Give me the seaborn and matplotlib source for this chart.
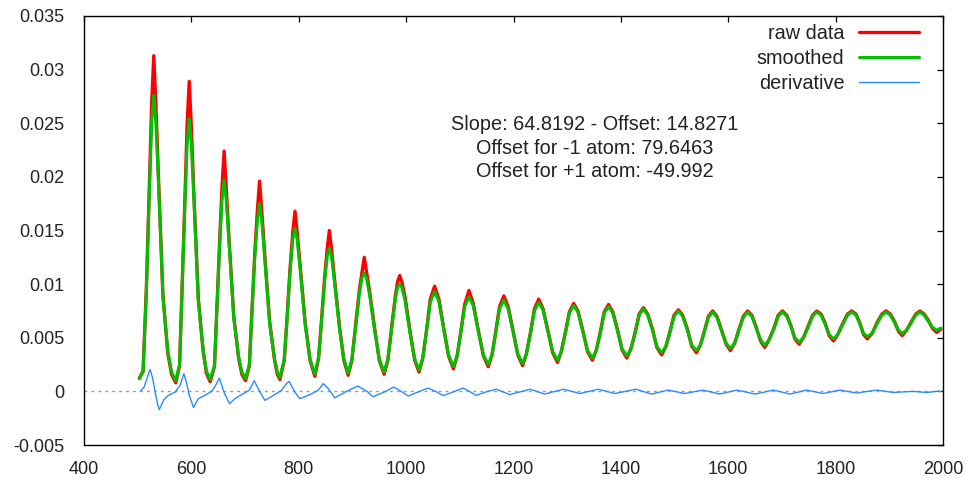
import matplotlib
matplotlib.use("Agg")
import matplotlib.pyplot as plt
from matplotlib.ticker import FuncFormatter
import seaborn as sns
import pandas as pd

# ---------------- data ----------------
channel = [
    503, 510, 516, 522, 526, 530, 534, 539, 547, 556, 563, 571,
    578, 582, 588, 592, 596, 600, 605, 613, 622, 628, 635,
    643, 647, 653, 657, 661, 665, 670, 679, 688, 694, 701,
    708, 712, 718, 723, 727, 731, 737, 746, 755, 760, 765,
    773, 778, 784, 789, 793, 797, 803, 812, 821, 830,
    837, 842, 848, 853, 857, 861, 867, 876, 884, 892,
    899, 906, 913, 918, 922, 926, 932, 941, 950, 959,
    966, 973, 980, 984, 988, 992, 998, 1007, 1016, 1024,
    1031, 1038, 1045, 1053, 1061, 1070, 1079, 1088,
    1095, 1102, 1109, 1117, 1125, 1134, 1144, 1153,
    1160, 1167, 1174, 1182, 1190, 1199, 1208, 1217,
    1224, 1232, 1239, 1247, 1255, 1264, 1273, 1282,
    1289, 1297, 1304, 1312, 1320, 1329, 1338, 1347,
    1354, 1362, 1369, 1377, 1385, 1394, 1402, 1411,
    1419, 1427, 1434, 1442, 1450, 1459, 1467, 1476,
    1484, 1492, 1499, 1507, 1515, 1524, 1532, 1541,
    1548, 1556, 1563, 1571, 1579, 1587, 1596, 1604,
    1612, 1620, 1628, 1636, 1644, 1652, 1660, 1668,
    1676, 1685, 1693, 1701, 1709, 1717, 1724, 1732,
    1740, 1749, 1757, 1765, 1773, 1781, 1788, 1796,
    1804, 1813, 1822, 1830, 1838, 1845, 1852, 1859,
    1868, 1877, 1886, 1894, 1902, 1910, 1917, 1924,
    1932, 1941, 1949, 1957, 1965, 1973, 1980, 1988,
    1996,
]

raw_data = [
    0.0012, 0.0019, 0.0094, 0.0196, 0.0268, 0.0313, 0.0266, 0.0196, 0.0090, 0.0036, 0.0016, 0.0008,
    0.0024, 0.0086, 0.0180, 0.0248, 0.0289, 0.0246, 0.0180, 0.0086, 0.0037, 0.0017, 0.0009,
    0.0023, 0.0072, 0.0144, 0.0190, 0.0224, 0.0189, 0.0143, 0.0070, 0.0031, 0.0016, 0.0010,
    0.0024, 0.0067, 0.0128, 0.0169, 0.0196, 0.0169, 0.0125, 0.0064, 0.0029, 0.0016, 0.0011,
    0.0029, 0.0067, 0.0116, 0.0149, 0.0168, 0.0149, 0.0115, 0.0064, 0.0029, 0.0014,
    0.0031, 0.0064, 0.0105, 0.0133, 0.0150, 0.0133, 0.0103, 0.0060, 0.0029, 0.0015,
    0.0029, 0.0062, 0.0095, 0.0112, 0.0125, 0.0112, 0.0093, 0.0060, 0.0029, 0.0016,
    0.0029, 0.0060, 0.0089, 0.0102, 0.0108, 0.0102, 0.0088, 0.0057, 0.0029, 0.0018,
    0.0031, 0.0057, 0.0086, 0.0098, 0.0086, 0.0059, 0.0033, 0.0021,
    0.0033, 0.0056, 0.0081, 0.0094, 0.0082, 0.0058, 0.0033, 0.0023,
    0.0034, 0.0056, 0.0079, 0.0089, 0.0079, 0.0057, 0.0034, 0.0024,
    0.0035, 0.0056, 0.0077, 0.0086, 0.0077, 0.0057, 0.0036, 0.0027,
    0.0037, 0.0056, 0.0074, 0.0082, 0.0075, 0.0057, 0.0037, 0.0029,
    0.0038, 0.0056, 0.0074, 0.0081, 0.0074, 0.0057, 0.0039, 0.0031,
    0.0040, 0.0056, 0.0072, 0.0078, 0.0072, 0.0058, 0.0041, 0.0034,
    0.0042, 0.0057, 0.0071, 0.0076, 0.0071, 0.0058, 0.0042, 0.0036,
    0.0043, 0.0057, 0.0070, 0.0075, 0.0070, 0.0058, 0.0044, 0.0038,
    0.0045, 0.0058, 0.0070, 0.0075, 0.0071, 0.0060, 0.0047, 0.0041,
    0.0048, 0.0059, 0.0071, 0.0075, 0.0071, 0.0061, 0.0049, 0.0044,
    0.0050, 0.0061, 0.0071, 0.0075, 0.0072, 0.0063, 0.0052, 0.0047,
    0.0053, 0.0063, 0.0072, 0.0075, 0.0072, 0.0064, 0.0053, 0.0049,
    0.0054, 0.0064, 0.0072, 0.0075, 0.0072, 0.0065, 0.0056, 0.0052,
    0.0057, 0.0065, 0.0072, 0.0075, 0.0072, 0.0066, 0.0059, 0.0055,
    0.0058,
]

smoothed = [
    0.0012, 0.0018, 0.0091, 0.0191, 0.0250, 0.0276, 0.0250, 0.0192, 0.0088, 0.0038, 0.0018, 0.0010,
    0.0025, 0.0083, 0.0176, 0.0230, 0.0254, 0.0230, 0.0176, 0.0084, 0.0038, 0.0019, 0.0011,
    0.0024, 0.0070, 0.0140, 0.0178, 0.0197, 0.0178, 0.0140, 0.0068, 0.0032, 0.0018, 0.0012,
    0.0025, 0.0065, 0.0125, 0.0160, 0.0175, 0.0160, 0.0122, 0.0062, 0.0030, 0.0018, 0.0013,
    0.0030, 0.0065, 0.0113, 0.0142, 0.0152, 0.0142, 0.0112, 0.0062, 0.0030, 0.0016,
    0.0032, 0.0062, 0.0102, 0.0126, 0.0133, 0.0126, 0.0100, 0.0058, 0.0030, 0.0017,
    0.0030, 0.0060, 0.0092, 0.0106, 0.0110, 0.0106, 0.0090, 0.0058, 0.0030, 0.0018,
    0.0030, 0.0058, 0.0086, 0.0097, 0.0100, 0.0097, 0.0085, 0.0055, 0.0030, 0.0020,
    0.0031, 0.0056, 0.0083, 0.0093, 0.0084, 0.0058, 0.0034, 0.0023,
    0.0033, 0.0055, 0.0079, 0.0088, 0.0080, 0.0057, 0.0034, 0.0025,
    0.0034, 0.0055, 0.0077, 0.0085, 0.0077, 0.0056, 0.0035, 0.0026,
    0.0035, 0.0055, 0.0075, 0.0083, 0.0076, 0.0056, 0.0037, 0.0029,
    0.0037, 0.0055, 0.0073, 0.0080, 0.0074, 0.0056, 0.0038, 0.0031,
    0.0038, 0.0055, 0.0073, 0.0079, 0.0073, 0.0056, 0.0040, 0.0033,
    0.0040, 0.0055, 0.0071, 0.0077, 0.0071, 0.0057, 0.0042, 0.0036,
    0.0042, 0.0056, 0.0070, 0.0075, 0.0070, 0.0057, 0.0043, 0.0038,
    0.0043, 0.0056, 0.0069, 0.0074, 0.0069, 0.0057, 0.0045, 0.0040,
    0.0045, 0.0057, 0.0069, 0.0074, 0.0070, 0.0059, 0.0048, 0.0043,
    0.0048, 0.0058, 0.0070, 0.0074, 0.0070, 0.0060, 0.0050, 0.0046,
    0.0050, 0.0060, 0.0070, 0.0074, 0.0071, 0.0062, 0.0053, 0.0049,
    0.0053, 0.0062, 0.0071, 0.0074, 0.0071, 0.0063, 0.0054, 0.0051,
    0.0054, 0.0063, 0.0071, 0.0074, 0.0071, 0.0064, 0.0057, 0.0054,
    0.0057, 0.0064, 0.0071, 0.0074, 0.0071, 0.0065, 0.0060, 0.0057,
    0.0059,
]

deriv_channel = [
    505, 512, 518, 523, 528, 533, 537, 540, 544, 548, 557, 570,
    579, 586, 591, 596, 604, 613, 625, 638, 647, 652, 661, 671,
    681, 697, 708, 717, 726, 737, 753, 768, 777, 782, 793, 802,
    821, 836, 846, 855, 867, 889, 910, 927, 938, 962, 977, 991,
    1004, 1020, 1041, 1055, 1069, 1085, 1106, 1118, 1130, 1152, 1168, 1193,
    1231, 1258, 1293, 1324, 1358, 1389, 1428, 1457, 1488, 1519, 1553, 1584,
    1616, 1650, 1684, 1715, 1746, 1777, 1808, 1839, 1876, 1907, 1944, 1969,
    1994,
]
derivative = [
    0.0, 0.0004, 0.0013, 0.00205, 0.0012, -0.0002, -0.0012, -0.0017, -0.0013, -0.00084, -0.00037, -0.00006,
    0.00056, 0.00165, 0.0008, -0.00037, -0.0015, -0.00068, -0.00037, 0.0, 0.00072, 0.00124, -0.0001, -0.00115,
    -0.00068, -0.0002, 0.0001, 0.0010, 0.0001, -0.00084, -0.00037, 0.0001, 0.00072, 0.00093, -0.0001, -0.00068,
    -0.0003, 0.0001, 0.00072, 0.00025, -0.0006, 0.0, 0.0005, 0.0, -0.0005, 0.0, 0.0004, 0.0,
    -0.00044, -0.0001, 0.0003, 0.0, -0.0004, -0.0001, 0.0003, 0.0, -0.00037, 0.0, 0.0002, -0.0003,
    0.0002, -0.00025, 0.0002, -0.0002, 0.0002, -0.0002, 0.0002, -0.00025, 0.00012, -0.0002, 0.00012, -0.00025,
    0.00012, -0.00025, 0.00012, -0.00025, 0.00012, -0.0002, 0.00012, -0.00015, 0.00012, -0.0001, 0.0, -0.0001,
    0.00003,
]

series_labels = ["raw data", "smoothed", "derivative"]
annotation_lines = [
    "Slope: 64.8192 - Offset: 14.8271",
    "Offset for -1 atom: 79.6463",
    "Offset for +1 atom: -49.992",
]
annotation_x = 1352
annotation_y = [0.0249, 0.02267, 0.02053]
x_ticks = [400, 600, 800, 1000, 1200, 1400, 1600, 1800, 2000]
y_ticks = [-0.005, 0, 0.005, 0.01, 0.015, 0.02, 0.025, 0.03, 0.035]

assert len(channel) == len(raw_data) == len(smoothed)
assert len(deriv_channel) == len(derivative)

# ---------------- plotting ----------------
sns.set_theme(style="white")
plt.rcParams["font.family"] = ["Liberation Sans", "DejaVu Sans"]
plt.rcParams["axes.unicode_minus"] = False

W, H = 972, 483
fig = plt.figure(figsize=(W / 100, H / 100), dpi=100)
ax = fig.add_axes([84 / W, 1 - 445 / H, (943 - 84) / W, (445 - 16) / H])

main_df = pd.DataFrame({"channel": channel, "raw": raw_data, "smooth": smoothed})
deriv_df = pd.DataFrame({"channel": deriv_channel, "deriv": derivative})

ax.axhline(0, color="#9a9a9a", lw=1.0, ls=(0, (2, 3)), zorder=1)

sns.lineplot(data=main_df, x="channel", y="raw", ax=ax, color="#ff0000", lw=2.4,
             sort=False, estimator=None, label=series_labels[0], zorder=2)
sns.lineplot(data=main_df, x="channel", y="smooth", ax=ax, color="#00c000", lw=2.2,
             sort=False, estimator=None, label=series_labels[1], zorder=3)
sns.lineplot(data=deriv_df, x="channel", y="deriv", ax=ax, color="#2a8cff", lw=1.0,
             sort=False, estimator=None, label=series_labels[2], zorder=4)

ax.set_xlim(400, 2000)
ax.set_ylim(-0.005, 0.035)
ax.set_xticks(x_ticks)
ax.set_yticks(y_ticks)
ax.yaxis.set_major_formatter(FuncFormatter(lambda v, p: "%g" % v))
ax.xaxis.set_major_formatter(FuncFormatter(lambda v, p: "%g" % v))
ax.set_xlabel("")
ax.set_ylabel("")

txt_color = "#222222"
ax.tick_params(axis="both", direction="in", length=4.5, width=0.9, colors="black",
               labelcolor=txt_color, labelsize=13, top=True, right=True)
ax.tick_params(axis="x", pad=11.5)
ax.tick_params(axis="y", pad=14)
for sp in ax.spines.values():
    sp.set_color("black")
    sp.set_linewidth(1.0)

for line, yy in zip(annotation_lines, annotation_y):
    ax.text(annotation_x, yy, line, ha="center", va="center", fontsize=14.3, color=txt_color)

leg = ax.legend(loc="upper right", bbox_to_anchor=(919 / W, 1 - 24 / H),
                bbox_transform=fig.transFigure, frameon=False, markerfirst=False,
                handlelength=3.0, handletextpad=0.75, labelspacing=0.3,
                borderpad=0, borderaxespad=0, fontsize=14.3)
for t in leg.get_texts():
    t.set_color(txt_color)

fig.savefig("out.png", dpi=100, facecolor="white")
